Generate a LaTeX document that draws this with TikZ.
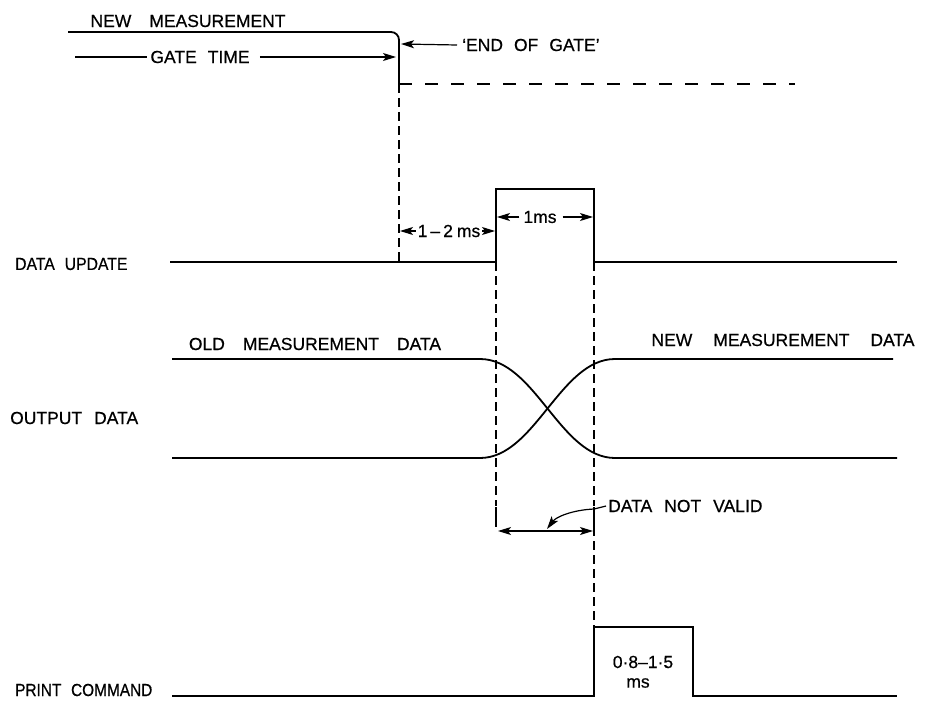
\documentclass[tikz,border=0pt]{standalone}
\usepackage{fontspec}
\setmainfont{Liberation Sans}[FakeBold=0.6]
\usetikzlibrary{arrows.meta}
\begin{document}
\begin{tikzpicture}[x=1pt,y=-1pt,
  sig/.style={line width=1.8pt},
  dsh/.style={line width=1.5pt, dash pattern=on 9pt off 5pt},
  lbl/.style={inner sep=0pt, font=\fontsize{17.5}{20}\selectfont},
  tip/.tip={Stealth[length=13pt,width=8pt,inset=3pt]},
  dimarrow/.style={line width=1.2pt, -tip},
  thinline/.style={line width=1.2pt},
]
\useasboundingbox (0,0) rectangle (925,706);

% ---------- gate ----------
\draw[sig, rounded corners=8pt] (68,32) -| (399,84);
\draw[line width=1.6pt, dash pattern=on 13pt off 13pt] (399,84) -- (795,84);
\draw[dsh] (399,84) -- (399,262);

\node[lbl] (newm) at (188,21) {NEW\hspace{18pt}MEASUREMENT};
\node[lbl] (gt) at (200,57) {GATE\hspace{11pt}TIME};
\coordinate (gtl) at (75,57);
\coordinate (gtr) at (396,57);
\draw[thinline] (gtl) -- ([xshift=-3pt]gt.west);
\draw[dimarrow] ([xshift=10pt]gt.east) -- (gtr);

\node[lbl, anchor=west] (eog) at (462,45) {‘END\hspace{11pt}OF\hspace{11pt}GATE’};
\coordinate (eogtip) at (401,44);
\draw[dimarrow] ([xshift=-5pt]eog.west) -- (eogtip);

% ---------- data update ----------
\node[lbl, anchor=west] (du) at (15,264) {\scalebox{0.9}[1]{DATA\hspace{11pt}UPDATE}};
\draw[sig] (170,262) -- (496,262) |- (594,189) |- (897,262);

\node[lbl] (t12) at (449,231) {1\hspace{3pt}–\hspace{3pt}2\hspace{4pt}ms};
\coordinate (t12l) at (400,231);
\coordinate (t12r) at (495,231);
\draw[dimarrow] ([xshift=-2pt]t12.west) -- (t12l);
\draw[dimarrow] ([xshift=2pt]t12.east) -- (t12r);

\node[lbl] (t1) at (540,217) {1ms};
\coordinate (t1l) at (497,217);
\coordinate (t1r) at (593,217);
\draw[dimarrow] ([xshift=-4pt]t1.west) -- (t1l);
\draw[dimarrow] ([xshift=6pt]t1.east) -- (t1r);

% ---------- vertical marks ----------
\draw[dsh] (496,262) -- (496,506);
\draw[thinline] (496,507) -- (496,527);
\draw[dsh] (594,262) -- (594,506);
\draw[thinline] (594,507) -- (594,527);
\draw[dsh] (594,527) -- (594,627);

% ---------- output data ----------
\node[lbl] (oldd) at (315,344) {OLD\hspace{18pt}MEASUREMENT\hspace{18pt}DATA};
\node[lbl] (newd) at (783,340) {NEW\hspace{21pt}MEASUREMENT\hspace{21pt}DATA};
\node[lbl, anchor=west] (od) at (10,418) {OUTPUT\hspace{12pt}DATA};
\draw[sig] (172,359) -- (480,359) .. controls (535,359) and (560,458) .. (615,458) -- (897,458);
\draw[sig] (172,458) -- (480,458) .. controls (535,458) and (560,359) .. (615,359) -- (893,359);

% ---------- data not valid ----------
\node[lbl, anchor=west] (dnv) at (608,506) {DATA\hspace{12pt}NOT\hspace{12pt}VALID};
\coordinate (dnvl) at (498,531);
\coordinate (dnvr) at (593,531);
\coordinate (dnvtip) at (547,529);
\draw[line width=1.2pt, tip-tip] (dnvl) -- (dnvr);
\draw[dimarrow] ([xshift=-2pt]dnv.west) -- (594,509) .. controls (572,510) and (556,517) .. (dnvtip);

% ---------- print command ----------
\node[lbl, anchor=west] (pc) at (15,690) {\scalebox{0.88}[1]{PRINT\hspace{11pt}COMMAND}};
\draw[sig] (172,696) -- (594,696) |- (693,627) |- (897,696);
\node[lbl] (pw1) at (643,662) {0·8–1·5};
\node[lbl] (pw2) at (638,683) {ms};
\end{tikzpicture}
\end{document}
